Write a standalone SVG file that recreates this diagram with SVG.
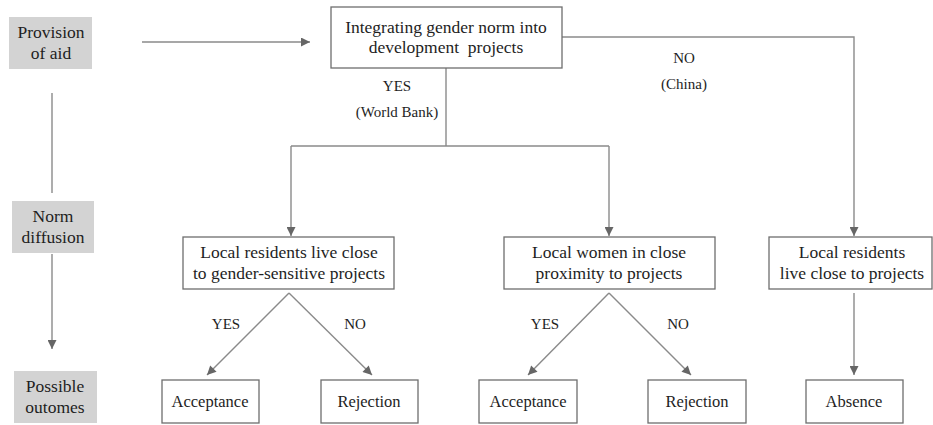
<svg xmlns="http://www.w3.org/2000/svg" width="933" height="425" viewBox="0 0 933 425" font-family="'Liberation Serif', 'Times New Roman', serif">
<defs>
<style>
.bx{fill:#fff;stroke:#6e6e6e;stroke-width:1.3}
.gb{fill:#d3d3d3;stroke:none}
.lbl{font-family:'Liberation Serif','Times New Roman',serif;font-size:17.5px;fill:#1e1e1e;text-anchor:middle}
.out{font-family:'Liberation Serif','Times New Roman',serif;font-size:16.5px;fill:#1e1e1e;text-anchor:middle}
.sm{font-family:'Liberation Serif','Times New Roman',serif;font-size:15px;fill:#1e1e1e;text-anchor:middle}
.ln{fill:none;stroke:#8a8a8a;stroke-width:1.4}
</style>
<marker id="ah" viewBox="0 0 10 10" refX="10" refY="5" markerWidth="10" markerHeight="9" markerUnits="userSpaceOnUse" orient="auto">
<path d="M0,0 L10,5 L0,10 z" fill="#666"/>
</marker>
</defs>
<rect width="933" height="425" fill="#fff"/>

<g id="connectors">
<line class="ln" x1="142" y1="42" x2="310" y2="42" marker-end="url(#ah)"/>
<line class="ln" x1="52" y1="93" x2="52" y2="193"/>
<line class="ln" x1="52" y1="254" x2="52" y2="349" marker-end="url(#ah)"/>
<polyline class="ln" points="446,68 446,146"/>
<polyline class="ln" points="291,146 609,146"/>
<line class="ln" x1="291" y1="146" x2="291" y2="236" marker-end="url(#ah)"/>
<line class="ln" x1="609" y1="146" x2="609" y2="236" marker-end="url(#ah)"/>
<polyline class="ln" points="562,37 854,37 854,236" marker-end="url(#ah)"/>
<line class="ln" x1="289" y1="293" x2="207" y2="375" marker-end="url(#ah)"/>
<line class="ln" x1="289" y1="293" x2="372" y2="375" marker-end="url(#ah)"/>
<line class="ln" x1="609" y1="293" x2="528" y2="375" marker-end="url(#ah)"/>
<line class="ln" x1="609" y1="293" x2="691" y2="375" marker-end="url(#ah)"/>
<line class="ln" x1="854" y1="293" x2="854" y2="375" marker-end="url(#ah)"/>
<text class="sm" x="397" y="91">YES</text>
<text class="sm" x="397" y="117">(World Bank)</text>
<text class="sm" x="684" y="63">NO</text>
<text class="sm" x="684" y="89">(China)</text>
<text class="sm" x="226" y="329">YES</text>
<text class="sm" x="355" y="329">NO</text>
<text class="sm" x="545" y="329">YES</text>
<text class="sm" x="678" y="329">NO</text>
</g>

<g id="provision">
<rect class="gb" x="9" y="17" width="83" height="52"/>
<text class="lbl" x="51" y="38">Provision</text>
<text class="lbl" x="51" y="59">of aid</text>
</g>
<g id="norm">
<rect class="gb" x="12" y="201" width="82" height="52"/>
<text class="lbl" x="53" y="222">Norm</text>
<text class="lbl" x="53" y="243">diffusion</text>
</g>
<g id="outcomes">
<rect class="gb" x="14" y="371" width="83" height="52"/>
<text class="lbl" x="55" y="392">Possible</text>
<text class="lbl" x="55" y="413">outomes</text>
</g>

<g id="integrating">
<rect class="bx" x="331" y="7" width="231" height="61"/>
<text class="lbl" x="446" y="33">Integrating gender norm into</text>
<text class="lbl" x="446" y="53" xml:space="preserve">development  projects</text>
</g>
<g id="residents-gender">
<rect class="bx" x="183" y="237" width="211" height="52"/>
<text class="lbl" x="289" y="258">Local residents live close</text>
<text class="lbl" x="289" y="279">to gender-sensitive projects</text>
</g>
<g id="women">
<rect class="bx" x="504" y="237" width="211" height="52"/>
<text class="lbl" x="609" y="258">Local women in close</text>
<text class="lbl" x="609" y="279">proximity to projects</text>
</g>
<g id="residents">
<rect class="bx" x="769" y="237" width="163" height="52"/>
<text class="lbl" x="852" y="258">Local residents</text>
<text class="lbl" x="852" y="279">live close to projects</text>
</g>
<g id="accept1">
<rect class="bx" x="162" y="380" width="97" height="43"/>
<text class="out" x="210" y="407">Acceptance</text>
</g>
<g id="reject1">
<rect class="bx" x="321" y="380" width="97" height="43"/>
<text class="out" x="369" y="407">Rejection</text>
</g>
<g id="accept2">
<rect class="bx" x="479" y="380" width="98" height="43"/>
<text class="out" x="528" y="407">Acceptance</text>
</g>
<g id="reject2">
<rect class="bx" x="648" y="380" width="98" height="43"/>
<text class="out" x="697" y="407">Rejection</text>
</g>
<g id="absence">
<rect class="bx" x="806" y="380" width="97" height="43"/>
<text class="out" x="854" y="407">Absence</text>
</g>
</svg>
